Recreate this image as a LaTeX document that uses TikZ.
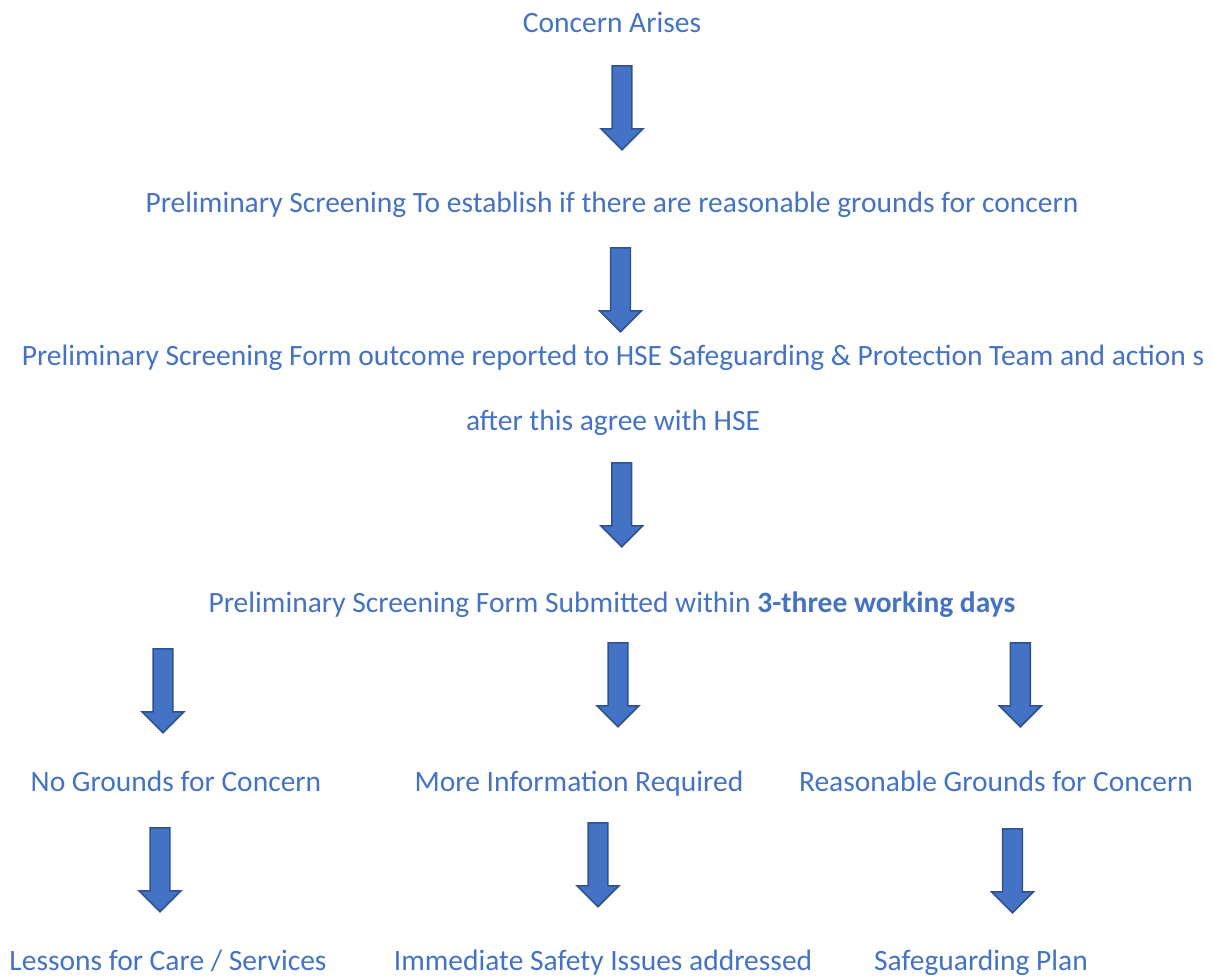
\documentclass[tikz,border=0pt]{standalone}
\usepackage{fontspec}
\setmainfont{Carlito}
\usetikzlibrary{shapes.arrows}
\definecolor{txtblue}{HTML}{4472C4}
\definecolor{arrfill}{HTML}{4472C4}
\definecolor{arrdraw}{HTML}{2F528F}
\tikzset{
  lbl/.style={text=txtblue, font=\fontsize{29.5}{65}\selectfont, inner sep=0pt, anchor=base, align=center},
  blockarrow/.style={single arrow, shape border rotate=270, fill=arrfill, draw=arrdraw, line width=1.6pt,
    minimum height=84pt, minimum width=42pt, single arrow head extend=11pt, single arrow tip angle=90, inner sep=9pt, anchor=north}
}
\begin{document}
\begin{tikzpicture}[x=1pt,y=-1pt]
\useasboundingbox (0,0) rectangle (1213,976);
\node[lbl] (t1) at (612,33) {Concern Arises};
\node[lbl] (t2) at (612,213) {Preliminary Screening To establish if there are reasonable grounds for concern};
\node[lbl, anchor=center] (t3) at (613,390) {Preliminary Screening Form outcome reported to HSE Safeguarding \& Protection Team and action s\\after this agree with HSE};
\node[lbl] (t4) at (612,612) {Preliminary Screening Form Submitted within \textbf{3-three working days}};
\node[lbl] (a1) at (176,791) {No Grounds for Concern};
\node[lbl] (b1) at (579,791) {More Information Required};
\node[lbl] (c1) at (996,791) {Reasonable Grounds for Concern};
\node[lbl] (a2) at (168,970) {Lessons for Care / Services};
\node[lbl] (b2) at (603,970) {Immediate Safety Issues addressed};
\node[lbl] (c2) at (981,970) {Safeguarding Plan};
\node[blockarrow] (ar1) at (622,65) {};
\node[blockarrow] (ar2) at (620.5,247) {};
\node[blockarrow] (ar3) at (621.7,462) {};
\node[blockarrow] (ar4a) at (163,648) {};
\node[blockarrow] (ar4b) at (618,642) {};
\node[blockarrow] (ar4c) at (1020.3,642) {};
\node[blockarrow] (ar5a) at (160,827) {};
\node[blockarrow] (ar5b) at (598,822) {};
\node[blockarrow] (ar5c) at (1012.5,828) {};
\end{tikzpicture}
\end{document}
